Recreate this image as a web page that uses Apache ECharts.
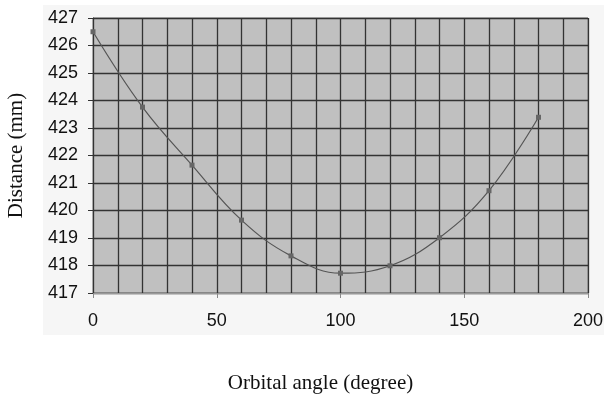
<!DOCTYPE html>
<html><head><meta charset="utf-8">
<script src="https://cdn.jsdelivr.net/npm/echarts@6/dist/echarts.min.js"></script>
<style>html,body{margin:0;padding:0;background:#fff}#c{width:604px;height:394px}</style>
</head><body><div id="c"></div>
<script>
const angles = [0, 20, 40, 60, 80, 100, 120, 140, 160, 180];
const distances = [426.5, 423.76, 421.65, 419.65, 418.35, 417.72, 417.99, 419.01, 420.72, 423.39];
const xTitle = 'Orbital angle (degree)';
const yTitle = 'Distance (mm)';

const chart = echarts.init(document.getElementById('c'), null, {renderer: 'canvas'});
const gridLine = {show: true, lineStyle: {color: '#333', width: 1.3}};
chart.setOption({
  animation: false,
  backgroundColor: '#fff',
  graphic: [{type: 'rect', z: -10, shape: {x: 43, y: 5, width: 561, height: 330}, style: {fill: '#f6f6f6'}}],
  grid: {left: 93, right: 16, top: 18, bottom: 101, show: true, backgroundColor: '#c0c0c0', borderColor: '#888', borderWidth: 1, outerBoundsMode: 'none', containLabel: false},
  xAxis: {
    type: 'value', min: 0, max: 200, interval: 50,
    axisLine: {show: true, onZero: false, lineStyle: {color: '#999'}},
    axisTick: {show: true, length: 5, lineStyle: {color: '#888'}},
    axisLabel: {color: '#111', fontSize: 18, fontFamily: 'Liberation Sans, Arial', margin: 19},
    splitLine: gridLine,
    minorTick: {show: false, splitNumber: 5},
    minorSplitLine: {show: true, lineStyle: {color: '#333', width: 1.3}},
    name: xTitle, nameLocation: 'middle', nameGap: 80,
    nameTextStyle: {fontFamily: 'Liberation Serif, Times New Roman', fontSize: 21, color: '#111', padding: [0, 0, 0, -40]}
  },
  yAxis: {
    type: 'value', min: 417, max: 427, interval: 1,
    axisLine: {show: true, lineStyle: {color: '#333'}},
    axisTick: {show: true, length: 5, lineStyle: {color: '#333'}},
    axisLabel: {color: '#111', fontSize: 18, fontFamily: 'Liberation Sans, Arial', margin: 15},
    splitLine: gridLine,
    name: yTitle, nameLocation: 'middle', nameGap: 66,
    nameTextStyle: {fontFamily: 'Liberation Serif, Times New Roman', fontSize: 21, color: '#111'}
  },
  series: [{
    type: 'line', data: angles.map((a, i) => [a, distances[i]]),
    smooth: 0.4, symbol: 'rect', symbolSize: 5,
    lineStyle: {color: '#555', width: 1.2},
    itemStyle: {color: '#666'}
  }]
});
</script></body></html>
